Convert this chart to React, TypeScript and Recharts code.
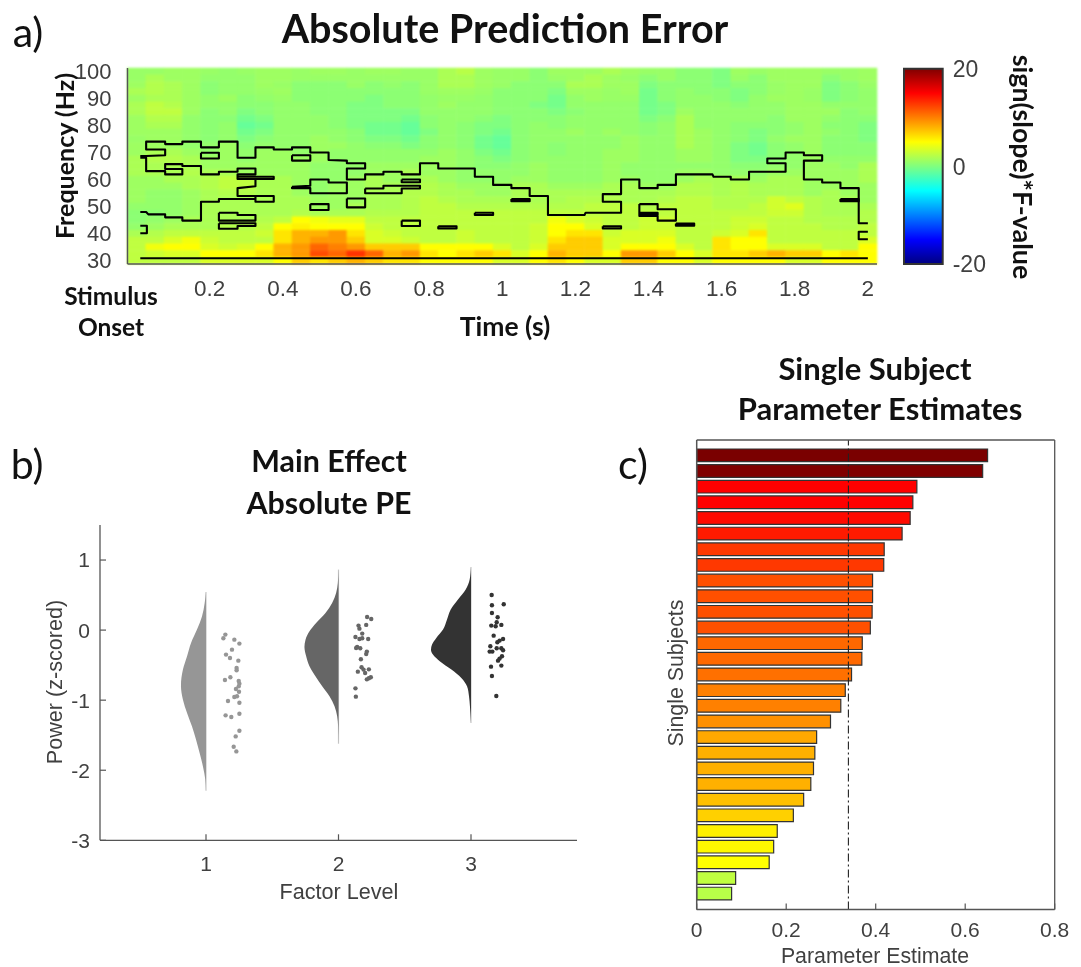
import {
  ScatterChart,
  Scatter,
  BarChart,
  Bar,
  Cell,
  XAxis,
  YAxis,
  ReferenceArea,
  ReferenceLine,
} from "recharts";

// ---------- panel a: time-frequency map ----------
const times = [
  0, 0.05, 0.1, 0.15, 0.2, 0.25, 0.3, 0.35, 0.4, 0.45, 0.5, 0.55, 0.6, 0.65, 0.7, 0.75, 0.8, 0.85, 0.9, 0.95, 1,
  1.05, 1.1, 1.15, 1.2, 1.25, 1.3, 1.35, 1.4, 1.45, 1.5, 1.55, 1.6, 1.65, 1.7, 1.75, 1.8, 1.85, 1.9, 1.95, 2,
];
const frequencies = [
  100, 97.5, 95, 92.5, 90, 87.5, 85, 82.5, 80, 77.5, 75, 72.5, 70, 67.5, 65, 62.5, 60, 57.5, 55, 52.5, 50, 47.5, 45,
  42.5, 40, 37.5, 35, 32.5, 30,
];
// one row per frequency, top row first
const fValues = [
  [1,1,1.2,1.2,1,0.8,1,1.2,1.2,1,1.2,1.2,1,1.2,1.2,1,1,1.7,2.2,1.2,1,1,0.5,1.2,1.2,1.2,1.7,1.2,1,1,0.5,0.5,0,1.2,1,1.2,1.2,1.2,1,1,1.2],
  [1,1.7,1.2,1.2,0.8,0.8,0.8,1.2,1.2,1,1,1,1,1,1,1,1,1.7,1.7,1.2,1,1,0.5,1,1.2,1.7,1.2,1,0.5,1,0.5,0.5,0,1,0.5,1.2,1.2,1.2,0.5,1,1.2],
  [1.2,2,1.7,1.2,0.5,0.8,0.8,1.2,1,0.5,0.5,0.5,1,0.5,0.8,0.5,1,1.7,1.7,1.2,1,0.5,0.5,0.5,1.7,1.7,1.2,1.2,0,0.5,0.5,0.5,0,0.5,0.5,1,1.2,1.2,0,0.5,1],
  [1.7,2,1.7,1.2,0.5,0.8,0.8,1,1.2,0.5,0.5,0.5,0.5,0.5,0.5,0.5,1,1.2,1.2,1,0.5,0.5,0.5,0,1.2,1.2,1,1.2,-0.4,0.5,0.8,0.5,0.5,0,0.5,1,1.2,1,0,0.5,0.8],
  [1.2,1.7,1.7,1.2,0.8,1.2,0.5,0.8,1,0.5,0.5,0.5,0.5,0,0.5,0.5,0.8,1,1,0.8,0.5,0.5,0.5,-0.4,0.8,1.2,1,1,-0.4,0.5,0.8,0.8,0.5,0,0.8,1.2,1.2,1,0,0.5,0.8],
  [1.7,2.5,2,1.2,0.8,0.8,0.5,0.5,0.8,0.8,0.5,0.5,0,0,0.5,0.5,0.8,1.2,0.8,0.8,0.5,0.5,0,-0.4,0.8,0.8,0.8,0.8,-0.4,0,0.8,0.8,0.8,0.5,0.8,0.8,1.2,1.2,0.8,0.8,0.8],
  [1.7,2.5,2.5,1.2,0.5,0.8,0,0.5,0.8,0.8,0.5,0.5,0,0,0,0,0.8,0.8,0.8,0.8,0.5,0.5,0.5,0,0.5,0.8,0.8,0.8,-0.4,0,1.2,0.8,0.8,0.8,0.8,0.8,1.2,1.2,1.2,0.5,0.8],
  [1.2,2,2,0.8,0.5,0.5,-0.5,0,0.8,0.8,0.8,0.5,0,0,0,-0.5,0.5,0.8,0.8,0.5,0,0.5,0.5,0.5,0.8,0.8,0.8,0.8,0,0.5,1.7,0.8,0.8,0.8,0.8,0.5,1.2,1.2,0.8,0.5,0.5],
  [1.2,1.7,1.7,0.8,0.5,0.8,-1,-0.5,0.8,0.8,0.8,0.5,0,-0.5,-0.5,-1,0.5,0.8,0.5,0,0,0.5,0.8,0.5,0.8,0.8,0.8,0.8,0.5,0.8,1.7,0.8,0.8,0.5,0.5,0.5,0.8,1.2,0.5,0.5,0],
  [1.2,1.2,1.2,0.8,0.5,0.8,-0.5,0,0.8,0.8,0.8,0.8,0.5,-0.5,-0.5,-1,0,0.8,0.5,0,-0.5,0.5,0.8,0.8,1.2,0.8,1.2,0.8,0.5,0.8,1.7,1.2,0.8,0.5,0,0.5,0.8,1.2,0.8,0.5,0],
  [1,1.2,1.2,0.8,0.5,0.8,0,0.5,0.8,0.8,1.2,0.8,0.5,0,0,-0.5,0.5,0.8,0.5,-0.5,-1,0.5,0.8,0.8,0.8,0.8,0.8,1.2,0.8,0.8,1.7,1.2,0.8,0.5,0,0.8,1.2,1.2,0.5,0.5,0],
  [1.2,1.2,1.2,0.8,0.8,1.2,0.5,0.8,0.8,0.8,1.2,1.2,0.8,0.5,0.5,0,0.5,0.8,0.5,-0.5,-1,0.5,0.8,0.5,0.8,0.8,0.8,1.2,0.8,0.8,1.7,1.2,0.8,0,-0.5,0.5,0.8,1.2,0.5,0.5,0.5],
  [1.2,1.7,1.7,1.2,0.8,1.2,0.8,1.2,1.2,0.8,1.2,0.8,0.8,0.8,0.8,0.8,0.8,1.2,0.8,0,-0.5,0.5,0.8,0.5,0.8,0.8,1.2,1.2,0.8,0.8,1.2,1.2,0.8,0,-0.5,0.5,0.8,1.2,0.5,0.5,0.5],
  [1.7,2,2,1.7,1.2,1.2,0.8,1.2,1.2,1.2,1.2,0.8,0.8,0.8,0.8,0.8,1.2,1.2,0.8,0.5,0,0.5,0.8,0.8,0.8,0.8,1.2,1.2,0.8,0.8,1.2,1.2,0.8,0,0,0.5,0.8,1.2,0.8,0.8,0.8],
  [1.7,1.7,1.7,1.7,1.2,1.2,1.2,1.2,1.2,1.2,0.8,0.8,0.8,1.2,1.2,1.2,1.2,1.2,0.8,0.5,0.5,0.8,1.2,0.8,0.8,0.8,1.2,0.8,0.8,0.8,0.8,0.8,0.8,0.5,0.5,0.8,0.8,1.2,1.2,0.8,1.7],
  [1.7,1.7,1.7,2,1.7,1.7,1.2,1.2,1.2,1.2,0.8,0.8,0.8,1.2,1.2,1.7,1.2,1.2,0.8,0.8,0.8,0.8,1.2,0.8,0.8,0.8,1.2,0.8,0.8,0.8,1.2,1.2,0.8,0.8,0.8,1.2,1.2,1.2,1.2,1.2,1.7],
  [1.2,1.2,1.7,1.7,2,2.5,2.5,1.7,1.7,1.2,0.8,0.8,1.2,1.7,1.2,1.2,1.7,1.2,0.8,0.8,0.8,1.2,1.2,0.8,0.8,0.8,1.2,1.2,0.8,0.8,1.2,1.7,1.7,1.7,1.2,1.7,1.7,1.2,1.2,1.2,1.7],
  [1.2,1.2,1.2,1.7,2,2.5,2.5,1.7,1.7,1.2,0.8,1.2,1.2,1.7,1.7,1.7,2,1.7,1.2,1.2,1.2,1.7,1.7,1.2,1.2,1.2,1.7,1.7,1.2,1.2,2,2,1.7,2,1.7,1.7,1.7,1.2,1.2,1.2,1.2],
  [1.2,0.8,0.8,1.2,1.7,2,2,1.7,1.7,1.2,0.8,1.2,1.2,1.7,1.7,2,2,1.7,1.7,1.2,1.2,1.7,1.7,1.7,1.7,1.7,1.7,1.7,1.7,1.7,2,2,1.7,2,1.7,1.7,1.7,1.2,1.7,1.2,1.2],
  [1.2,0.8,0.8,1.2,1.7,1.7,1.7,1.7,1.7,1.7,1.2,1.2,1.2,1.7,1.7,2,2.5,2,1.7,1.7,1.7,1.7,1.7,1.7,2,2,2,1.7,1.7,2,2.5,2.5,2,2,2,3.2,2.5,2,1.7,1.7,1.2],
  [0.8,0.8,0.8,1.2,1.7,1.7,1.7,1.7,1.7,1.7,1.2,1.2,1.7,1.7,1.7,2,2.5,2.5,2,2,2,2,2,2,2,2.5,2.5,2.5,2,2.5,2.5,2.5,2,2,2.5,3.2,3.8,2,1.7,1.7,1.7],
  [0.5,0.5,0.8,1.2,1.7,1.7,1.7,1.7,1.7,2,1.7,1.7,1.7,2,2,2,2.5,2.5,2.5,2.5,2.5,2.5,2.5,2.5,2.5,2.5,2.5,2.5,2.5,2.5,2.5,2.5,2.5,2.5,2.5,3,3,2,1.7,1.7,2],
  [0.5,0.8,1.2,1.7,1.7,1.7,1.7,2,2.5,5,4.5,4,4,2.5,2.5,2.5,2.5,2.5,2.5,2.5,2.5,2.5,2.5,4.5,3.5,3,2.5,2.5,3,3,2.5,2.5,2.5,3,3,2.5,2.5,2,2,2,2],
  [0.8,1.2,1.7,1.7,1.7,2,2,2.5,5,5.5,5,5,5,3,2.5,2.5,2.5,2.5,2.5,2.5,2.5,2.5,3,5,5,3.5,2.5,2.5,3,3,2.5,2.5,2.5,3,3.5,2.5,2.5,2.5,2,2,2.5],
  [1.7,2,2.5,2.5,2.5,2.5,2.5,3,6,8,8,9,6,3.5,3,2.5,2.5,2.5,3,2.5,2.5,2.5,3,5,6,6,3,3.5,3.5,3.5,2.5,2.5,3,3.5,6,2.5,2.5,2.5,2.5,2.5,2.5],
  [2.5,2.5,3.5,4.5,3,2.5,2.5,2.5,6,8,9,9,7,3.5,3.5,3,2.5,2.5,3,2.5,2.5,2.5,3,6,7,7,3.5,3.5,3.5,4.5,2.5,2.5,6,5,5,2.5,2.5,2.5,2.5,2.5,3.5],
  [2.5,4.5,5,5,3.5,3,3.5,5,8,9,11,10,9,7,7,7,5,5,5,5,3.5,2.5,3.5,7,7,7,3.5,5,5,5,3.5,2.5,6,5,5,3.5,3.5,3.5,2.5,2.5,5],
  [2.5,3,3.5,3.5,5,5,5,6,8,9,12,11,13,11,8,9,6,5,6,7,6,3.5,5,8,7,7,5,9,9,7,5,3.5,6,6,7,8,7,7,5,6,5],
  [2.5,2.5,2.5,2.5,3.5,3.5,3.5,3.5,5,7,6,7,8,7,6,6,5,5,5,5,3.5,3.5,5,6,5,3.5,3.5,7,7,5,5,3.5,5,5,5,5,3.5,3.5,5,5,5],
];

// significance contours, [time, frequency]
const contourUpper = [
  [0.01,68.7],[0.026,68.7],[0.078,69],[0.078,71.1],[0.026,71.1],[0.026,74],[0.078,74],[0.078,73.1],[0.125,73.1],[0.125,74],
  [0.176,74],[0.176,71.9],[0.225,71.9],[0.225,74],[0.276,74],[0.276,68.05],[0.325,68.05],[0.325,71.9],[0.375,71.9],[0.375,71.1],
  [0.425,71.1],[0.425,71.9],[0.475,71.9],[0.475,70],[0.525,70],[0.525,67.2],[0.575,67],[0.575,66],[0.625,66],[0.625,64.1],
  [0.575,64.1],[0.575,60],[0.625,60],[0.625,61.9],[0.675,61.9],[0.675,62.9],[0.725,62.9],[0.725,61.9],[0.775,61.9],[0.775,66],
  [0.825,66],[0.825,64.1],[0.925,64.1],[0.925,61],[0.975,61],[0.975,58],[1.025,58],[1.025,56.8],[1.075,56.8],[1.075,53.9],
  [1.125,53.9],[1.125,46.9],[1.225,46.9],[1.228,47.7],[1.325,47.7],[1.325,51.8],[1.275,51.8],[1.275,54.6],[1.325,54.6],[1.325,60],
  [1.375,60],[1.375,56.8],[1.425,56.8],[1.425,58],[1.475,58],[1.475,61.9],[1.575,61.9],[1.578,61],[1.625,61],[1.625,60],
  [1.675,60],[1.675,62.9],[1.775,62.9],[1.775,66],[1.725,66],[1.725,67.8],[1.775,67.8],[1.775,70],[1.825,70],[1.825,69],
  [1.875,69],[1.875,67],[1.825,67],[1.825,60],[1.875,60],[1.875,58.9],[1.925,58.9],[1.925,56.8],[1.975,56.8],[1.975,43.8],[2,43.8],
];
const contourBranch = [
  [0.01,68.05],[0.026,68.05],[0.026,63.1],[0.078,63.1],[0.078,61.9],[0.125,61.9],[0.125,63.9],[0.078,63.9],[0.078,65.7],[0.125,65.7],
  [0.125,65],[0.176,65],[0.176,61.9],[0.225,61.9],[0.225,62.9],[0.276,62.9],[0.276,64.1],[0.325,64.1],[0.325,61.9],[0.276,61.9],
  [0.276,61],[0.375,61],[0.375,60.2],[0.276,60.2],[0.276,61],
];
const contourLower = [
  [0.325,60.2],[0.325,57.5],[0.276,56.8],[0.276,53.9],[0.325,53.9],[0.325,51.8],[0.375,51.8],[0.375,53.9],[0.325,53.9],[0.325,52.8],
  [0.225,52.8],[0.225,51.8],[0.176,51.8],[0.176,44.8],[0.125,44.8],[0.125,46],[0.078,46],[0.078,47.1],[0.032,47.1],[0.026,48],[0.01,48],
];
const contourBase = [[0.01,30.85],[2,30.85]];
const contourIslands = [
  [[0.176,69.9],[0.225,69.9],[0.225,67.8],[0.176,67.8],[0.176,69.9]],
  [[0.425,69],[0.475,69],[0.475,67],[0.425,67],[0.425,69]],
  [[0.425,57.3],[0.475,57.7],[0.475,60],[0.525,60],[0.525,58.9],[0.575,58.9],[0.575,54.9],[0.475,54.9],[0.475,56.8],[0.425,56.8],[0.425,57.3]],
  [[0.475,50.9],[0.525,50.9],[0.525,48.7],[0.475,48.7],[0.475,50.9]],
  [[0.575,53],[0.625,53],[0.625,49.7],[0.575,49.7],[0.575,53]],
  [[0.225,47.7],[0.276,47.7],[0.276,46.9],[0.325,46.9],[0.325,44.8],[0.225,44.8],[0.225,47.7]],
  [[0.225,43.8],[0.325,43.8],[0.325,42.8],[0.276,42.8],[0.276,41.8],[0.225,41.8],[0.225,43.8]],
  [[0.725,44.8],[0.775,44.8],[0.775,42.8],[0.725,42.8],[0.725,44.8]],
  [[0.825,42.7],[0.875,42.7],[0.875,41.9],[0.825,41.9],[0.825,42.7]],
  [[0.925,47.7],[0.975,47.7],[0.975,46.9],[0.925,46.9],[0.925,47.7]],
  [[0.725,60],[0.775,60],[0.775,59],[0.725,59],[0.725,60]],
  [[0.625,56.7],[0.675,56.7],[0.675,57.7],[0.775,57.7],[0.775,56.7],[0.725,56.7],[0.725,54.9],[0.625,54.9],[0.625,56.7]],
  [[0.01,42.9],[0.028,42.9],[0.028,40.1],[0.01,40.1]],
  [[1.025,52.8],[1.075,52.8],[1.075,52],[1.025,52],[1.025,52.8]],
  [[1.275,42.7],[1.325,42.7],[1.325,41.9],[1.275,41.9],[1.275,42.7]],
  [[1.375,50.9],[1.425,50.9],[1.425,49],[1.475,49],[1.475,44.8],[1.425,44.8],[1.425,46.5],[1.375,46.5],[1.375,47.7],[1.425,47.7],[1.425,47],[1.375,47],[1.375,50.9]],
  [[1.475,43.7],[1.525,43.7],[1.525,42.9],[1.475,42.9],[1.475,43.7]],
  [[1.925,52.8],[1.975,52.8],[1.975,52],[1.925,52],[1.925,52.8]],
  [[2,40.7],[1.975,40.7],[1.975,37.9],[2,37.9]],
];

const timeTicks = [0.2, 0.4, 0.6, 0.8, 1, 1.2, 1.4, 1.6, 1.8, 2];
const freqTicks = [30, 40, 50, 60, 70, 80, 90, 100];
const colorbarTicks = [-20, 0, 20];
const jetOffsets = [0, 0.125, 0.375, 0.625, 0.875, 1];
const jetColors = ["#800000", "#ff0000", "#ffff00", "#00ffff", "#0000ff", "#000080"];

// ---------- panel b: raincloud ----------
const cloud1Power = [0.545,0.388,0.197,0.007,-0.183,-0.374,-0.564,-0.793,-0.993,-1.183,-1.374,-1.564,-1.755,-1.945,-2.136,-2.293];
const cloud1Width = [0,0.01,0.03,0.068,0.113,0.143,0.174,0.189,0.174,0.143,0.106,0.075,0.048,0.023,0.005,0];
const cloud2Power = [0.864,0.674,0.531,0.388,0.245,0.102,-0.017,-0.136,-0.241,-0.374,-0.517,-0.66,-0.803,-0.945,-1.088,-1.231,-1.374,-1.622];
const cloud2Width = [0,0.005,0.018,0.048,0.098,0.169,0.219,0.249,0.257,0.244,0.219,0.174,0.123,0.068,0.03,0.01,0.003,0];
const cloud3Power = [0.902,0.721,0.578,0.436,0.293,0.15,0.007,-0.112,-0.207,-0.279,-0.35,-0.445,-0.564,-0.683,-0.803,-0.945,-1.088,-1.326];
const cloud3Width = [0,0.01,0.04,0.098,0.153,0.181,0.211,0.262,0.294,0.302,0.287,0.236,0.148,0.073,0.03,0.015,0.008,0];

const dots1X = [1.146,1.131,1.214,1.252,1.196,1.151,1.181,1.244,1.231,1.231,1.143,1.184,1.247,1.252,1.247,1.226,1.249,1.234,1.214,1.166,1.252,1.148,1.191,1.252,1.252,1.224,1.209,1.229];
const dots1Y = [-0.064,-0.117,-0.136,-0.193,-0.279,-0.35,-0.398,-0.436,-0.541,-0.574,-0.712,-0.674,-0.726,-0.764,-0.803,-0.841,-0.879,-0.945,-0.955,-1.012,-1.036,-1.217,-1.241,-1.193,-1.436,-1.517,-1.664,-1.731];
const dots2X = [2.216,2.247,2.151,2.209,2.158,2.179,2.128,2.158,2.179,2.224,2.141,2.133,2.164,2.214,2.209,2.169,2.174,2.229,2.189,2.146,2.201,2.244,2.214,2.229,2.128,2.131];
const dots2Y = [0.188,0.159,0.064,0.074,0.021,-0.05,-0.098,-0.126,-0.117,-0.126,-0.241,-0.255,-0.26,-0.307,-0.341,-0.417,-0.531,-0.56,-0.564,-0.593,-0.612,-0.674,-0.703,-0.688,-0.831,-0.95];
const dots3X = [3.156,3.158,3.247,3.158,3.201,3.194,3.153,3.186,3.229,3.171,3.242,3.216,3.199,3.146,3.194,3.229,3.242,3.141,3.161,3.234,3.216,3.204,3.229,3.151,3.158,3.191];
const dots3Y = [0.502,0.355,0.369,0.245,0.183,0.112,0.064,0.055,0.074,-0.079,-0.126,-0.15,-0.174,-0.231,-0.26,-0.26,-0.288,-0.307,-0.307,-0.374,-0.407,-0.436,-0.507,-0.522,-0.655,-0.941];

const factorTicks = [1, 2, 3];
const powerTicks = [-3, -2, -1, 0, 1];

// ---------- panel c: single subject bars ----------
const estimates = [0.65,0.639,0.492,0.483,0.477,0.459,0.419,0.418,0.393,0.393,0.392,0.388,0.37,0.369,0.346,0.332,0.322,0.299,0.268,0.264,0.261,0.255,0.239,0.216,0.18,0.172,0.162,0.087,0.078];
const barColors = ["#7a0000","#800000","#ff0000","#ff0000","#ff0a00","#ff1a00","#ff3800","#ff3800","#ff5000","#ff5000","#ff5000","#ff5000","#ff6800","#ff6800","#ff7000","#ff8000","#ff8000","#ff9000","#ffa800","#ffb000","#ffb000","#ffb000","#ffc000","#ffd000","#fff000","#fff800","#ffff00","#c0ff40","#b8ff48"];
const estimateTicks = [0, 0.2, 0.4, 0.6, 0.8];
const meanEstimate = 0.339;

// ---------- helpers ----------
const SANS = "'Liberation Sans', Arial, sans-serif";
const HEAD = "Lato, 'Open Sans', sans-serif";
const INK = "#404040";
const AXIS = "#555555";

function jet(value: number) {
  const v = (value + 20) / 40;
  const ch = (c: number) => Math.round(255 * Math.max(0, Math.min(1, 1.5 - Math.abs(4 * v - c))));
  return `rgb(${ch(3)},${ch(2)},${ch(1)})`;
}

const heatCells = fValues.flatMap((row, r) =>
  row.map((value, c) => ({ t: times[c], f: frequencies[r], value }))
);
const toPoints = (pairs: number[][]) => pairs.map(([t, f]) => ({ t, f }));
const noMark = () => <g />;

const HeatCell = (p: any) => (
  <rect x={p.cx - 9.4} y={p.cy - 3.6} width={18.8} height={7.2} fill={jet(p.payload.value)} />
);

const cloudPoints = (level: number, power: number[], width: number[]) =>
  power.map((y, i) => ({ x: level - width[i], y }));
const dotPoints = (xs: number[], ys: number[]) => xs.map((x, i) => ({ x, y: ys[i] }));

function Caption(props: any) {
  const { x, y, size, bold, rotate = 0, font = HEAD, color = "#111", spacing = 0, children } = props;
  return (
    <div
      style={{
        position: "absolute",
        left: x,
        top: y,
        transform: `translate(-50%, -50%) rotate(${rotate}deg)`,
        fontFamily: font,
        fontSize: size,
        fontWeight: bold ? 700 : 400,
        color,
        letterSpacing: spacing,
        whiteSpace: "nowrap",
        lineHeight: 1,
      }}
    >
      {children}
    </div>
  );
}

function Raincloud({ level, power, width, xs, ys, fill }: any) {
  const dot = (p: any) => <circle cx={p.cx} cy={p.cy} r={2.2} fill={fill} />;
  return [
    <Scatter
      key={`stem${level}`}
      data={[{ x: level, y: power[0] }, { x: level, y: power[power.length - 1] }]}
      line={{ stroke: "#c8c8c8", strokeWidth: 1.2 }}
      shape={noMark}
      isAnimationActive={false}
    />,
    <Scatter
      key={`cloud${level}`}
      data={cloudPoints(level, power, width)}
      line={{ fill, stroke: "none" }}
      lineJointType="monotoneY"
      shape={noMark}
      isAnimationActive={false}
    />,
    <Scatter key={`rain${level}`} data={dotPoints(xs, ys)} shape={dot} isAnimationActive={false} />,
  ];
}

const heatMargin = { top: 68, right: 204, bottom: 26, left: 67.5 };

export default function App() {
  return (
    <div style={{ position: "absolute", left: 0, top: 0, width: 1081, height: 967, background: "#fff", overflow: "hidden", filter: "blur(0.35px)" }}>
      {/* a) heat map cells, softened like the interpolated original */}
      <div style={{ position: "absolute", left: 0, top: 0, filter: "blur(1.3px)" }}>
        <ScatterChart width={1081} height={340} margin={heatMargin}>
          <XAxis type="number" dataKey="t" domain={[-0.025, 2.025]} height={50} tick={false} axisLine={false} />
          <YAxis type="number" dataKey="f" domain={[28.75, 101.25]} width={60} tick={false} axisLine={false} />
          <Scatter data={heatCells} shape={HeatCell} isAnimationActive={false} />
        </ScatterChart>
      </div>

      {/* a) axes and contours */}
      <div style={{ position: "absolute", left: 0, top: 0 }}>
        <ScatterChart width={1081} height={340} margin={heatMargin}>
          <XAxis
            type="number"
            dataKey="t"
            domain={[-0.025, 2.025]}
            ticks={timeTicks}
            interval={0}
            height={50}
            tickLine={false}
            tickMargin={10}
            tick={{ fontFamily: SANS, fontSize: 22.5, fill: INK }}
            axisLine={{ stroke: AXIS, strokeWidth: 1.5 }}
          />
          <YAxis
            type="number"
            dataKey="f"
            domain={[28.75, 101.25]}
            ticks={freqTicks}
            interval={0}
            width={60}
            tickLine={false}
            tickMargin={10}
            tick={{ fontFamily: SANS, fontSize: 22, fill: INK }}
            axisLine={{ stroke: AXIS, strokeWidth: 1.5 }}
          />
          {[contourUpper, contourBranch, contourLower, contourBase, ...contourIslands].map((c, i) => (
            <Scatter
              key={i}
              data={toPoints(c)}
              line={{ stroke: "#000", strokeWidth: 2.1, strokeLinejoin: "round" }}
              shape={noMark}
              isAnimationActive={false}
            />
          ))}
        </ScatterChart>
      </div>

      {/* a) colour bar */}
      <div style={{ position: "absolute", left: 880, top: 0 }}>
        <ScatterChart width={130} height={340} margin={{ top: 68.7, right: 30, bottom: 76, left: 24 }}>
          <defs>
            <linearGradient id="jetBar" x1="0" y1="0" x2="0" y2="1">
              {jetOffsets.map((o, i) => (
                <stop key={o} offset={1 - jetOffsets[jetOffsets.length - 1 - i]} stopColor={jetColors[i]} />
              ))}
            </linearGradient>
          </defs>
          <XAxis type="number" dataKey="x" domain={[0, 1]} hide />
          <YAxis
            type="number"
            dataKey="y"
            orientation="right"
            domain={[-20, 20]}
            ticks={colorbarTicks}
            interval={0}
            width={37.3}
            tickLine={false}
            axisLine={false}
            tickMargin={4}
            tick={{ fontFamily: SANS, fontSize: 23, fill: INK }}
          />
          <Scatter data={[{ x: 0, y: 0 }]} shape={noMark} isAnimationActive={false} />
          <ReferenceArea x1={0} x2={1} y1={-20} y2={20} fill="url(#jetBar)" fillOpacity={1} stroke="#333" strokeWidth={2} />
        </ScatterChart>
      </div>

      {/* b) raincloud */}
      <div style={{ position: "absolute", left: 0, top: 510 }}>
        <ScatterChart width={640} height={400} margin={{ top: 15, right: 63, bottom: 29.7, left: 40 }}>
          <XAxis
            type="number"
            dataKey="x"
            domain={[0.2, 3.8]}
            ticks={factorTicks}
            interval={0}
            height={40}
            tickSize={-6}
            tickLine={{ stroke: AXIS, strokeWidth: 1.2 }}
            tickMargin={22}
            tick={{ fontFamily: SANS, fontSize: 21, fill: INK }}
            stroke={AXIS}
            axisLine={{ stroke: AXIS, strokeWidth: 1.3 }}
          />
          <YAxis
            type="number"
            dataKey="y"
            domain={[-3, 1.5]}
            ticks={powerTicks}
            interval={0}
            width={60}
            tickSize={-6}
            tickLine={{ stroke: AXIS, strokeWidth: 1.2 }}
            tickMargin={16}
            tick={{ fontFamily: SANS, fontSize: 21, fill: INK }}
            stroke={AXIS}
            axisLine={{ stroke: AXIS, strokeWidth: 1.3 }}
          />
          {Raincloud({ level: 1, power: cloud1Power, width: cloud1Width, xs: dots1X, ys: dots1Y, fill: "#969696" })}
          {Raincloud({ level: 2, power: cloud2Power, width: cloud2Width, xs: dots2X, ys: dots2Y, fill: "#666666" })}
          {Raincloud({ level: 3, power: cloud3Power, width: cloud3Width, xs: dots3X, ys: dots3Y, fill: "#333333" })}
        </ScatterChart>
      </div>

      {/* c) bars */}
      <div style={{ position: "absolute", left: 640, top: 430 }}>
        <BarChart
          layout="vertical"
          width={441}
          height={530}
          data={estimates.map((estimate, i) => ({ subject: i + 1, estimate }))}
          margin={{ top: 9, right: 16.3, bottom: 20.5, left: 36.7 }}
        >
          <XAxis
            type="number"
            dataKey="estimate"
            domain={[0, 0.8]}
            ticks={estimateTicks}
            interval={0}
            height={30}
            tickSize={-6}
            tickLine={{ stroke: AXIS, strokeWidth: 1.2 }}
            tickMargin={19}
            tick={{ fontFamily: SANS, fontSize: 21, fill: INK }}
            stroke={AXIS}
            axisLine={{ stroke: AXIS, strokeWidth: 1.3 }}
          />
          <XAxis
            xAxisId="top"
            orientation="top"
            type="number"
            domain={[0, 0.8]}
            ticks={estimateTicks}
            interval={0}
            height={1}
            tickSize={-6}
            tickLine={{ stroke: AXIS, strokeWidth: 1.2 }}
            tickFormatter={() => ""}
            stroke={AXIS}
            axisLine={{ stroke: AXIS, strokeWidth: 1.3 }}
          />
          <YAxis
            type="category"
            dataKey="subject"
            width={20}
            padding={{ top: 8, bottom: 7.6 }}
            tick={false}
            axisLine={{ stroke: AXIS, strokeWidth: 1.5 }}
          />
          <YAxis
            yAxisId="right"
            orientation="right"
            type="category"
            dataKey="subject"
            width={10}
            tick={false}
            axisLine={{ stroke: AXIS, strokeWidth: 1.3 }}
          />
          <Bar dataKey="estimate" barSize={12.7} stroke="#333" strokeWidth={1.2} isAnimationActive={false}>
            {estimates.map((_, i) => (
              <Cell key={i} fill={barColors[i]} />
            ))}
          </Bar>
          <ReferenceLine x={meanEstimate} stroke="#222" strokeWidth={1.1} strokeDasharray="8 3 2 3" />
        </BarChart>
      </div>

      <Caption x={505} y={28} size={39.5} bold>Absolute Prediction Error</Caption>
      <Caption x={28} y={31} size={41}>a)</Caption>
      <Caption x={27} y={463} size={41}>b)</Caption>
      <Caption x={633} y={463} size={41}>c)</Caption>
      <Caption x={64} y={155.5} size={25} bold rotate={-90}>Frequency (Hz)</Caption>
      <Caption x={111} y={296} size={24.5} bold>Stimulus</Caption>
      <Caption x={111} y={327} size={24.5} bold>Onset</Caption>
      <Caption x={505} y={326} size={26.5} bold>Time (s)</Caption>
      <Caption x={1023} y={167} size={26.8} bold rotate={90}>sign(slope)*F-value</Caption>
      <Caption x={329} y={460} size={30.4} bold>Main Effect</Caption>
      <Caption x={329} y={502} size={30.4} bold>Absolute PE</Caption>
      <Caption x={875} y={368} size={31} bold>Single Subject</Caption>
      <Caption x={880} y={408} size={31} bold>Parameter Estimates</Caption>
      <Caption x={55} y={682} size={21.6} rotate={-90} font={SANS} color={INK}>Power (z-scored)</Caption>
      <Caption x={339} y={892} size={21.6} font={SANS} color={INK}>Factor Level</Caption>
      <Caption x={677} y={673} size={21.3} rotate={-90} font={SANS} color={INK}>Single Subjects</Caption>
      <Caption x={875} y={957} size={21.3} font={SANS} color={INK}>Parameter Estimate</Caption>
    </div>
  );
}
